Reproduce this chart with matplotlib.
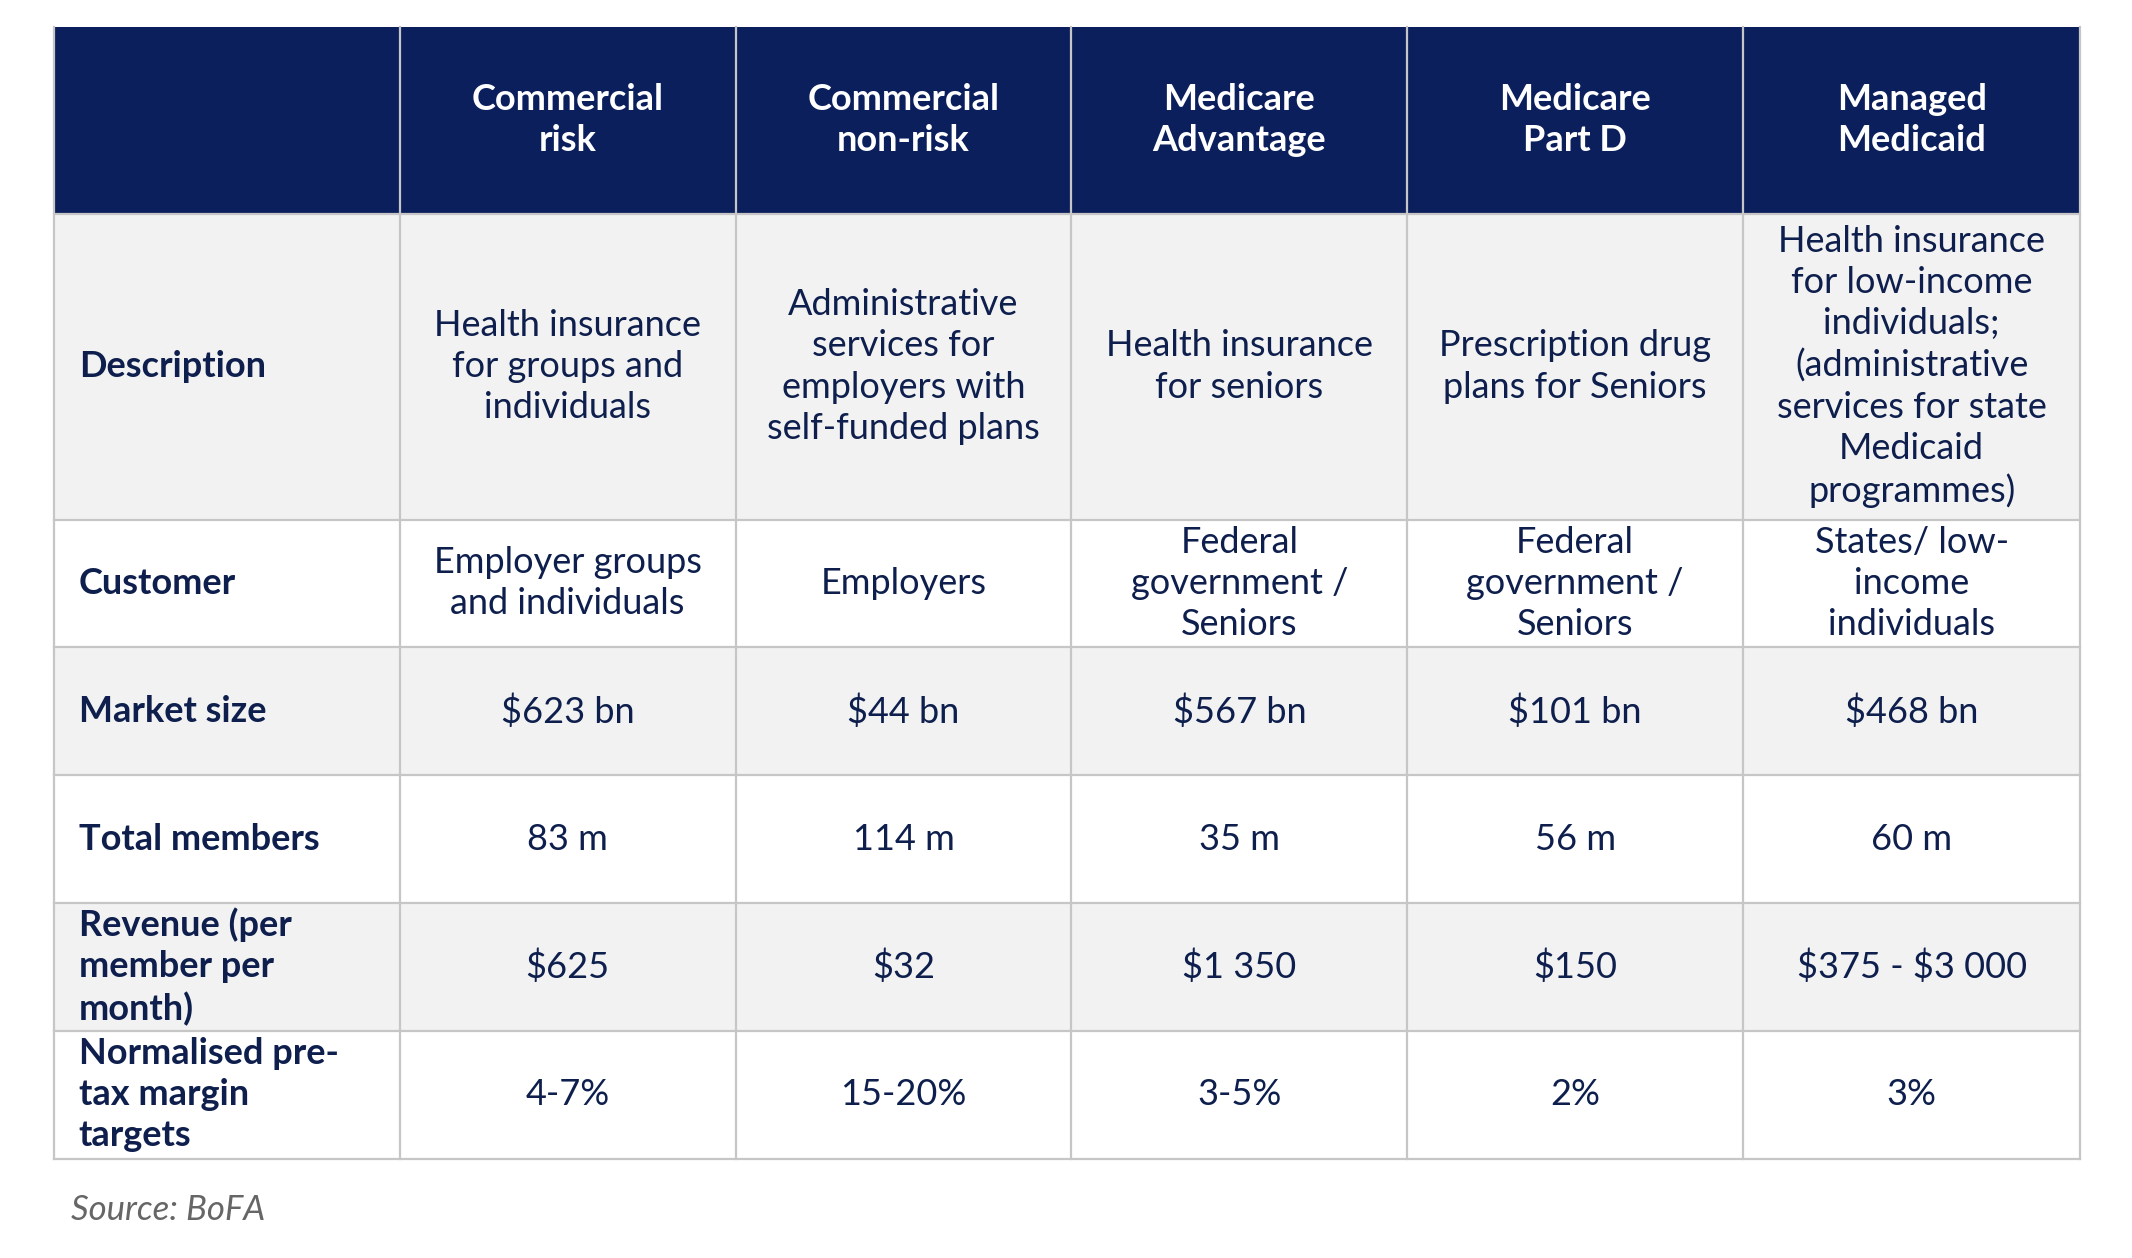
import matplotlib.pyplot as plt
from matplotlib.patches import Rectangle

columns = ["Commercial\nrisk", "Commercial\nnon-risk", "Medicare\nAdvantage", "Medicare\nPart D", "Managed\nMedicaid"]
row_labels = ["Description", "Customer", "Market size", "Total members",
              "Revenue (per\nmember per\nmonth)", "Normalised pre-\ntax margin\ntargets"]
cells = [
    ["Health insurance\nfor groups and\nindividuals",
     "Administrative\nservices for\nemployers with\nself-funded plans",
     "Health insurance\nfor seniors",
     "Prescription drug\nplans for Seniors",
     "Health insurance\nfor low-income\nindividuals;\n(administrative\nservices for state\nMedicaid\nprogrammes)"],
    ["Employer groups\nand individuals", "Employers", "Federal\ngovernment /\nSeniors",
     "Federal\ngovernment /\nSeniors", "States/ low-\nincome\nindividuals"],
    ["$623 bn", "$44 bn", "$567 bn", "$101 bn", "$468 bn"],
    ["83 m", "114 m", "35 m", "56 m", "60 m"],
    ["$625", "$32", "$1 350", "$150", "$375 - $3 000"],
    ["4-7%", "15-20%", "3-5%", "2%", "3%"],
]
source = "Source: BoFA"

W, H = 1568, 925
col_x = [40, 294, 541, 788, 1035, 1282, 1530]
row_y = [20, 157, 382, 476, 570, 664, 758, 852]
navy = "#0B1F5C"
text_c = "#0E1F4D"
grey = "#F2F2F2"
line_c = "#C6C6C6"
fs = 13
ls = 1.3

plt.rcParams['font.family'] = ['Lato', 'DejaVu Sans']
plt.rcParams['text.parse_math'] = False
fig = plt.figure(figsize=(10.66, 6.29), dpi=200)
ax = fig.add_axes([0, 0, 1, 1])
ax.set_xlim(0, W)
ax.set_ylim(H, 0)
ax.axis('off')

# header
ax.add_patch(Rectangle((col_x[0], row_y[0]), col_x[-1] - col_x[0], row_y[1] - row_y[0],
                       facecolor=navy, edgecolor='none'))
for j, c in enumerate(columns):
    xc = (col_x[j + 1] + col_x[j + 2]) / 2
    ax.text(xc, (row_y[0] + row_y[1]) / 2, c, ha='center', va='center', color='white',
            fontsize=fs, fontweight='bold', linespacing=ls)

for i in range(len(row_labels)):
    y0, y1 = row_y[i + 1], row_y[i + 2]
    fc = grey if i % 2 == 0 else 'white'
    ax.add_patch(Rectangle((col_x[0], y0), col_x[-1] - col_x[0], y1 - y0,
                           facecolor=fc, edgecolor='none'))
    ym = (y0 + y1) / 2
    ax.text(col_x[0] + 18, ym, row_labels[i], ha='left', va='center', color=text_c,
            fontsize=fs, fontweight='bold', linespacing=ls)
    for j, v in enumerate(cells[i]):
        xc = (col_x[j + 1] + col_x[j + 2]) / 2
        ax.text(xc, ym, v, ha='center', va='center', color=text_c,
                fontsize=fs, linespacing=ls)

# grid lines
for y in row_y[1:]:
    ax.plot([col_x[0], col_x[-1]], [y, y], color=line_c, lw=0.8)
for x in col_x:
    ax.plot([x, x], [row_y[0], row_y[-1]], color=line_c, lw=0.8)

ax.text(52, 890, source, ha='left', va='center', color='#666666', fontsize=12.5, style='italic')

fig.savefig('out.png', dpi=200)
